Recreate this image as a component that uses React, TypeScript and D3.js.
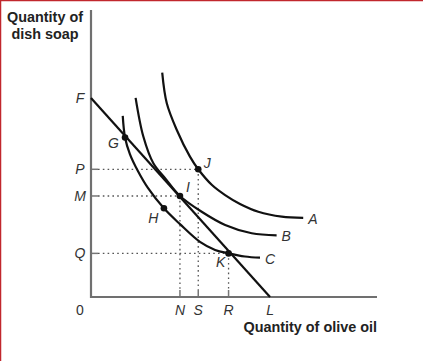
import React from 'react';
import * as d3 from 'd3';

const width = 423;
const height = 361;

// quantities on a 0-100 scale along each axis
const budget = [[0, 69.3], [62.6, 0]];
const curveA = [
  [24.9, 78.2], [26.5, 67.5], [30.0, 58.2], [34.6, 48.9], [37.5, 44.5],
  [42.3, 39.0], [46.9, 35.5], [52.1, 32.4], [58.5, 29.7], [66.7, 28.0], [74.2, 27.6],
];
const curveB = [
  [15.6, 69.4], [18.3, 55.9], [21.8, 46.6], [25.9, 41.4], [31.1, 35.2],
  [38.7, 29.7], [46.9, 25.1], [56.2, 22.2], [64.9, 21.5],
];
const curveC = [
  [11.1, 63.1], [11.9, 55.6], [13.6, 49.8], [16.4, 43.9], [19.9, 38.0], [25.5, 30.9],
  [31.1, 25.4], [38.1, 19.2], [43.4, 16.4], [48.1, 15.2], [53.8, 14.1], [59.1, 13.7],
];
const curves = [curveA, curveB, curveC];
const curveNames = ['A', 'B', 'C'];

const yTickNames = ['F', 'P', 'M', 'Q'];
const yTickValues = [69.3, 44.5, 35.2, 15.2];
const xTickNames = ['N', 'S', 'R', 'L'];
const xTickValues = [31.1, 37.5, 48.1, 62.6];

const pointNames = ['G', 'H', 'I', 'J', 'K'];
const pointX = [11.9, 25.5, 31.1, 37.5, 48.1];
const pointY = [55.6, 30.9, 35.2, 44.5, 15.2];

// dotted guides: point index -> y tick index / x tick index
const guides = [
  { p: 3, yt: 1, xt: 1 },
  { p: 2, yt: 2, xt: 0 },
  { p: 4, yt: 3, xt: 2 },
];

const labelOffset: Record<string, [number, number]> = {
  G: [-11.5, 6],
  H: [-10.5, 10],
  I: [8, -9],
  J: [9, -6],
  K: [-8, 8.5],
};

const App = () => {
  const x = d3.scaleLinear().domain([0, 100]).range([91, 377]);
  const y = d3.scaleLinear().domain([0, 100]).range([297, 10]);
  const line = d3
    .line<number[]>()
    .x((d) => x(d[0]))
    .y((d) => y(d[1]))
    .curve(d3.curveCatmullRom.alpha(0.5));
  const straight = d3
    .line<number[]>()
    .x((d) => x(d[0]))
    .y((d) => y(d[1]));

  const labelFont = { fontFamily: 'Liberation Sans, Arial, sans-serif', fontSize: 14, fontStyle: 'italic', fill: '#333' };
  const titleFont = { fontFamily: 'Liberation Sans, Arial, sans-serif', fontSize: 14.4, fontWeight: 'bold', fill: '#222' };
  const dots = '1.6 3.2';

  return (
    <>
      <style>{'body{margin:0}'}</style>
      <svg width={width} height={height} style={{ display: 'block', background: '#fff' }}>
        <line x1={0} y1={0.5} x2={width} y2={0.5} stroke="#c1272d" strokeWidth={1.5} />
        <line x1={0.5} y1={0} x2={0.5} y2={height} stroke="#c1272d" strokeWidth={1.5} />

        <text x={45} y={22} textAnchor="middle" {...titleFont}>Quantity of</text>
        <text x={45} y={38.5} textAnchor="middle" {...titleFont}>dish soap</text>
        <text x={x(100)} y={332} textAnchor="end" {...titleFont}>Quantity of olive oil</text>

        {guides.map((g, i) => (
          <g key={i} stroke="#555" strokeWidth={1.3} fill="none">
            <line x1={x(0) + 7} y1={y(pointY[g.p])} x2={x(pointX[g.p])} y2={y(pointY[g.p])} strokeDasharray={dots} />
            <line x1={x(0)} y1={y(yTickValues[g.yt])} x2={x(0) + 7} y2={y(yTickValues[g.yt])} stroke="#777" strokeWidth={1.5} />
            <line x1={x(pointX[g.p])} y1={y(pointY[g.p])} x2={x(pointX[g.p])} y2={y(0) - 7} strokeDasharray={dots} />
            <line x1={x(xTickValues[g.xt])} y1={y(0)} x2={x(xTickValues[g.xt])} y2={y(0) - 7} stroke="#777" strokeWidth={1.5} />
          </g>
        ))}

        <line x1={x(0)} y1={y(100)} x2={x(0)} y2={y(0) + 1} stroke="#707070" strokeWidth={2.2} />
        <line x1={x(0) - 1} y1={y(0)} x2={x(100)} y2={y(0)} stroke="#707070" strokeWidth={2.2} />

        <path d={straight(budget) || ''} stroke="#111" strokeWidth={2.2} fill="none" />
        {curves.map((c, i) => (
          <g key={i}>
            <path d={line(c) || ''} stroke="#111" strokeWidth={2.2} fill="none" />
            <text
              x={x(c[c.length - 1][0]) + 5}
              y={y(c[c.length - 1][1]) + 1}
              dominantBaseline="central"
              {...labelFont}
            >
              {curveNames[i]}
            </text>
          </g>
        ))}

        {pointNames.map((n, i) => (
          <g key={n}>
            <circle cx={x(pointX[i])} cy={y(pointY[i])} r={3.3} fill="#111" />
            <text
              x={x(pointX[i]) + labelOffset[n][0]}
              y={y(pointY[i]) + labelOffset[n][1]}
              textAnchor="middle"
              dominantBaseline="central"
              {...labelFont}
            >
              {n}
            </text>
          </g>
        ))}

        {yTickNames.map((n, i) => (
          <text key={n} x={x(0) - 11} y={y(yTickValues[i])} textAnchor="middle" dominantBaseline="central" {...labelFont}>
            {n}
          </text>
        ))}
        <text x={x(0) - 11} y={y(0) + 13} textAnchor="middle" dominantBaseline="central" {...labelFont} fontStyle="normal">
          0
        </text>
        {xTickNames.map((n, i) => (
          <text key={n} x={x(xTickValues[i])} y={y(0) + 13} textAnchor="middle" dominantBaseline="central" {...labelFont}>
            {n}
          </text>
        ))}
      </svg>
    </>
  );
};

export default App;
